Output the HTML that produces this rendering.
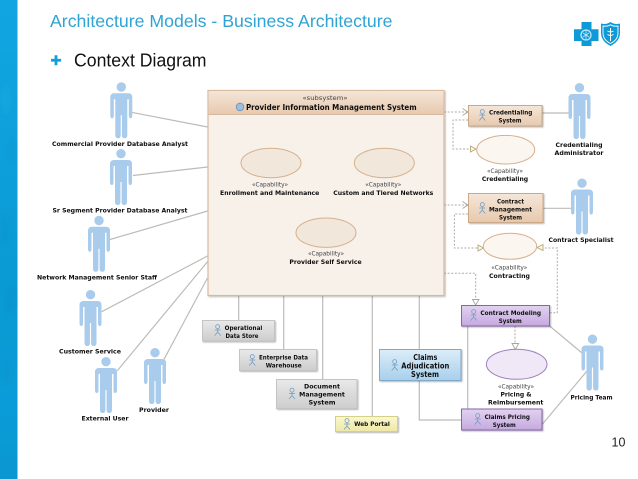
<!DOCTYPE html>
<html><head><meta charset="utf-8"><style>
html,body{margin:0;padding:0;background:#fff}
svg{display:block}
text{font-family:"DejaVu Sans","Liberation Sans",sans-serif;font-weight:bold;font-size:6.4px;fill:#111;text-anchor:middle}
text.c{font-weight:normal;fill:#444}
text.h{font-family:"Liberation Sans",sans-serif;font-weight:normal;text-anchor:start}
</style></head><body>
<svg width="638" height="479" viewBox="0 0 638 479" xmlns="http://www.w3.org/2000/svg">
<defs>
<linearGradient id="side" x1="0" y1="0" x2="0" y2="1"><stop offset="0" stop-color="#11a6e2"/><stop offset=".6" stop-color="#0a9ad3"/><stop offset=".85" stop-color="#0a9cd8"/><stop offset="1" stop-color="#0b97d0"/></linearGradient>
<linearGradient id="tan" x1="0" y1="0" x2="0" y2="1"><stop offset="0" stop-color="#f5e6d8"/><stop offset="1" stop-color="#e6c9ae"/></linearGradient>
<linearGradient id="pur" x1="0" y1="0" x2="0" y2="1"><stop offset="0" stop-color="#e2d2f0"/><stop offset="1" stop-color="#c6a9e0"/></linearGradient>
<linearGradient id="blu" x1="0" y1="0" x2="0" y2="1"><stop offset="0" stop-color="#dcedf9"/><stop offset="1" stop-color="#a8cfec"/></linearGradient>
<linearGradient id="gry" x1="0" y1="0" x2="0" y2="1"><stop offset="0" stop-color="#e9e9e9"/><stop offset="1" stop-color="#cdcdcd"/></linearGradient>
<linearGradient id="yel" x1="0" y1="0" x2="0" y2="1"><stop offset="0" stop-color="#fbf8cf"/><stop offset="1" stop-color="#eee8a4"/></linearGradient>
<filter id="soft" x="-2%" y="-2%" width="104%" height="104%"><feGaussianBlur stdDeviation="0.35"/></filter>
<filter id="sb" x="-50%" y="-5%" width="200%" height="110%"><feGaussianBlur stdDeviation="2"/></filter>
<filter id="ds" x="-5%" y="-10%" width="110%" height="125%"><feDropShadow dx="1" dy="1" stdDeviation=".7" flood-color="#000" flood-opacity=".28"/></filter>
<g id="actor" fill="#a9cbec"><circle cx="0" cy="4.7" r="4.7"/><path d="M-11 15Q-11 11-7 11H7Q11 11 11 15V33Q11 36 9.2 36Q7.5 36 7.5 33V17H6V53Q6 56 3.2 56Q.6 56 .6 53V33H-.6V53Q-.6 56-3.2 56Q-6 56-6 53V17H-7.5V33Q-7.5 36-9.2 36Q-11 36-11 33Z"/></g>
<g id="stick" fill="none" stroke="#6f9cc4" stroke-width=".8"><circle cx="0" cy="-3.4" r="2"/><path d="M0-1.4V2M-3 0H3M0 2L-3 5.5M0 2L3 5.5"/></g>
</defs>

<rect x="0" y="0" width="17.5" height="479" fill="url(#side)"/>
<g filter="url(#sb)" opacity=".22">
<ellipse cx="6" cy="100" rx="5" ry="14" fill="#2ab2e6"/><ellipse cx="12" cy="150" rx="4" ry="12" fill="#0a8fc6"/>
<ellipse cx="5" cy="230" rx="5" ry="16" fill="#0a8cc2"/><ellipse cx="11" cy="300" rx="5" ry="14" fill="#0886bb"/>
<ellipse cx="6" cy="370" rx="5" ry="14" fill="#0b8dc4"/>
</g>

<text class="h" x="50" y="27" textLength="342.5" lengthAdjust="spacingAndGlyphs" style="fill:#2fa3d3;font-size:17.6px">Architecture Models - Business Architecture</text>
<path d="M54.6 55.3h2.8v3.6h3.7v2.7h-3.7v3.6h-2.8v-3.6H51v-2.7h3.6z" fill="#0f9fdc"/>
<text class="h" x="74" y="66.6" textLength="132.5" lengthAdjust="spacingAndGlyphs" style="fill:#111;font-size:18px">Context Diagram</text>
<text class="h" x="611.5" y="446.5" style="fill:#222;font-size:12.5px">10</text>

<!-- logo -->
<path d="M581.5 22h10v7.2h7V41h-7v5h-10v-5H574V29.2h7.5z" fill="#0e9ad7"/>
<circle cx="586" cy="35" r="5" fill="none" stroke="#bfe6f7" stroke-width="1.3"/>
<path d="M583 33l6 4M589 33l-6 4M586 30v10" stroke="#bfe6f7" stroke-width=".8"/>
<path d="M601 23.5Q606 25 610.5 22Q615 25 620 23.5V33Q620 41 610.5 46Q601 41 601 33Z" fill="#0e9ad7"/>
<path d="M603 26Q607 26.800 610.5 24.800Q614 26.800 618 26V33Q618 39.800 610.500 43.500Q603 39.800 603 33Z" fill="none" stroke="#fff" stroke-width=".9"/>
<path d="M610.5 28V41M607.500 31q3 1.800 6 0M607.500 34.500q3 1.800 6 0" stroke="#fff" stroke-width="1" fill="none"/>

<g filter="url(#soft)">
<!-- solid connectors -->
<g stroke="#bcbcb7" stroke-width="1.200" fill="none">
<path d="M131.500 112.300L207.500 127M133 175.500L207.500 167M110 239.500L207.500 211M101.700 311.700L207.500 256M117.300 370.700L207.500 261.700M164 359.300L207.500 278"/>
<path d="M238.700 295V320M283.700 295V349.500M322.700 295V379M372.300 295V416M419.300 295V349M419.300 381V420H461M467.700 326V408.700"/>
<path d="M549.700 326L582 353M542.500 424L587 371M542 113H569M543 208.300H572"/>
</g>
<!-- dashed -->
<g stroke="#b0aca4" stroke-width="1" fill="none" stroke-dasharray="2 1.600">
<path d="M444 112H467M468 120H453V149H471M444 205H467M468 214H454.400V248H478M549.700 312.700H557.300V248H543M444 273.300H475.700V300M515 326V344"/>
</g>
<g stroke="#a9a59d" stroke-width=".9" fill="#fff">
<path d="M462.500 108.500L468 112L462.500 115.500" fill="none"/>
<path d="M462.500 201.500L468 205L462.500 208.500" fill="none"/>
<path d="M476 149L470.500 146V152Z" fill="#fbf7ea" stroke="#b5a878"/>
<path d="M483.500 248L478 245V251Z" fill="#fbf7ea" stroke="#b5a878"/>
<path d="M537 247.500L543 244.500V250.500Z" fill="#fbf7ea" stroke="#b5a878"/>
<path d="M475.700 305L472.500 299.500H479Z"/>
<path d="M515.300 349.500L512 343.500H518.700Z"/>
</g>

<!-- main subsystem -->
<rect x="208" y="90.500" width="236" height="205" fill="#f8f1ea" stroke="#d7b9a0" stroke-width="1.200" filter="url(#ds)"/>
<rect x="208" y="90.500" width="236" height="24" fill="url(#tan)" stroke="#d7b9a0" stroke-width="1"/>
<text class="c" x="325" y="100" textLength="45" lengthAdjust="spacingAndGlyphs">«subsystem»</text>
<circle cx="240" cy="107" r="3.800" fill="#9cbfe0" stroke="#6f8fb8" stroke-width=".8"/>
<text x="331.300" y="110" style="font-size:7.600px" textLength="170.700" lengthAdjust="spacingAndGlyphs">Provider Information Management System</text>

<!-- ellipses -->
<g stroke="#d5b08e" stroke-width="1" fill="#f2e7db">
<ellipse cx="271" cy="163" rx="30" ry="14.700"/>
<ellipse cx="384.300" cy="163" rx="30" ry="14.700"/>
<ellipse cx="326" cy="232.700" rx="30" ry="14.700"/>
<ellipse cx="505.700" cy="149.700" rx="29" ry="14.300" fill="#fbf6f0"/>
<ellipse cx="510" cy="246.300" rx="26.700" ry="13" fill="#fbf6f0"/>
</g>
<ellipse cx="516.700" cy="364.300" rx="30.300" ry="15" fill="#f0e7f7" stroke="#9d80bb" stroke-width="1"/>

<!-- boxes -->
<g stroke-width="1" filter="url(#ds)">
<rect x="468.500" y="105.500" width="73.500" height="20.500" fill="url(#tan)" stroke="#cda887"/>
<rect x="468.500" y="193.500" width="74.500" height="29" fill="url(#tan)" stroke="#cda887"/>
<rect x="461.500" y="305.500" width="88" height="20.500" fill="url(#pur)" stroke="#8565ad"/>
<rect x="461.500" y="409" width="80.500" height="21" fill="url(#pur)" stroke="#8565ad"/>
<rect x="379.500" y="349.500" width="81.500" height="31" fill="url(#blu)" stroke="#7fa9ca"/>
<rect x="202.500" y="320.500" width="72" height="20.500" fill="url(#gry)" stroke="#c4c4c4"/>
<rect x="239.500" y="349.500" width="77" height="21" fill="url(#gry)" stroke="#c4c4c4"/>
<rect x="276.500" y="379.500" width="80.500" height="29" fill="url(#gry)" stroke="#c4c4c4"/>
<rect x="335.500" y="416.500" width="62" height="15" fill="url(#yel)" stroke="#d5cf8a"/>
</g>

<!-- small figures -->
<use href="#stick" x="482.300" y="115"/><use href="#stick" x="482.300" y="208"/>
<use href="#stick" x="473.700" y="315"/><use href="#stick" x="477.700" y="419"/>
<use href="#stick" x="394.700" y="365"/><use href="#stick" x="217.700" y="330"/>
<use href="#stick" x="252.300" y="360"/><use href="#stick" x="292" y="393.500"/>
<use href="#stick" x="347" y="424"/>

<!-- actors -->
<use href="#actor" x="121.300" y="82.300"/><use href="#actor" x="121" y="149"/>
<use href="#actor" x="99" y="215.800"/><use href="#actor" x="90.500" y="290"/>
<use href="#actor" x="106" y="357"/><use href="#actor" x="155" y="348"/>
<use href="#actor" x="579.500" y="83"/><use href="#actor" x="582" y="178.500"/>
<use href="#actor" x="592.500" y="334.500"/>

<!-- actor labels -->
<text x="120" y="146" textLength="136" lengthAdjust="spacingAndGlyphs">Commercial Provider Database Analyst</text>
<text x="120" y="212.500" textLength="135" lengthAdjust="spacingAndGlyphs">Sr Segment Provider Database Analyst</text>
<text x="97" y="279.500" textLength="120" lengthAdjust="spacingAndGlyphs">Network Management Senior Staff</text>
<text x="90" y="353.500" textLength="62" lengthAdjust="spacingAndGlyphs">Customer Service</text>
<text x="105" y="420.500" textLength="47" lengthAdjust="spacingAndGlyphs">External User</text>
<text x="154" y="412" textLength="30" lengthAdjust="spacingAndGlyphs">Provider</text>
<text x="579" y="147" textLength="47" lengthAdjust="spacingAndGlyphs">Credentialing</text>
<text x="579" y="155" textLength="49" lengthAdjust="spacingAndGlyphs">Administrator</text>
<text x="581" y="242" textLength="65" lengthAdjust="spacingAndGlyphs">Contract Specialist</text>
<text x="591.500" y="399.500" textLength="42" lengthAdjust="spacingAndGlyphs">Pricing Team</text>

<!-- capability labels -->
<text class="c" x="270" y="186.500" textLength="36" lengthAdjust="spacingAndGlyphs">«Capability»</text>
<text x="269.700" y="195" textLength="99.300" lengthAdjust="spacingAndGlyphs">Enrollment and Maintenance</text>
<text class="c" x="383.300" y="186.500" textLength="36" lengthAdjust="spacingAndGlyphs">«Capability»</text>
<text x="383.300" y="195" textLength="100" lengthAdjust="spacingAndGlyphs">Custom and Tiered Networks</text>
<text class="c" x="326" y="255.500" textLength="36" lengthAdjust="spacingAndGlyphs">«Capability»</text>
<text x="325.500" y="264" textLength="72.300" lengthAdjust="spacingAndGlyphs">Provider Self Service</text>
<text class="c" x="505" y="173" textLength="36" lengthAdjust="spacingAndGlyphs">«Capability»</text>
<text x="505" y="181" textLength="46.300" lengthAdjust="spacingAndGlyphs">Credentialing</text>
<text class="c" x="509.300" y="269.500" textLength="36" lengthAdjust="spacingAndGlyphs">«Capability»</text>
<text x="509.500" y="278" textLength="41" lengthAdjust="spacingAndGlyphs">Contracting</text>
<text class="c" x="516" y="388.500" textLength="36" lengthAdjust="spacingAndGlyphs">«Capability»</text>
<text x="516" y="396.500" textLength="31" lengthAdjust="spacingAndGlyphs">Pricing &amp;</text>
<text x="515.700" y="404.500" textLength="55.300" lengthAdjust="spacingAndGlyphs">Reimbursement</text>

<!-- box labels -->
<text x="510.700" y="114.500" textLength="43.300" lengthAdjust="spacingAndGlyphs">Credentialing</text>
<text x="510" y="122.500" textLength="23" lengthAdjust="spacingAndGlyphs">System</text>
<text x="510.500" y="203.500" textLength="27" lengthAdjust="spacingAndGlyphs">Contract</text>
<text x="510.500" y="211.500" textLength="43" lengthAdjust="spacingAndGlyphs">Management</text>
<text x="510.500" y="219.500" textLength="23" lengthAdjust="spacingAndGlyphs">System</text>
<text x="510.700" y="315" textLength="60.700" lengthAdjust="spacingAndGlyphs">Contract Modeling</text>
<text x="510.300" y="323" textLength="23" lengthAdjust="spacingAndGlyphs">System</text>
<text x="507.300" y="419" textLength="45.300" lengthAdjust="spacingAndGlyphs">Claims Pricing</text>
<text x="504.300" y="427" textLength="23" lengthAdjust="spacingAndGlyphs">System</text>
<text x="425.300" y="360" textLength="24" lengthAdjust="spacingAndGlyphs" style="font-size:8px">Claims</text>
<text x="425.300" y="368.500" textLength="48" lengthAdjust="spacingAndGlyphs" style="font-size:8px">Adjudication</text>
<text x="425" y="377" textLength="28" lengthAdjust="spacingAndGlyphs" style="font-size:8px">System</text>
<text x="243.500" y="330" textLength="37.700" lengthAdjust="spacingAndGlyphs">Operational</text>
<text x="242" y="338" textLength="33" lengthAdjust="spacingAndGlyphs">Data Store</text>
<text x="283.500" y="359.500" textLength="49" lengthAdjust="spacingAndGlyphs">Enterprise Data</text>
<text x="283.700" y="367.500" textLength="36" lengthAdjust="spacingAndGlyphs">Warehouse</text>
<text x="322" y="388.500" textLength="36" lengthAdjust="spacingAndGlyphs">Document</text>
<text x="322" y="396.500" textLength="45.700" lengthAdjust="spacingAndGlyphs">Management</text>
<text x="322" y="404.500" textLength="27" lengthAdjust="spacingAndGlyphs">System</text>
<text x="372" y="426" textLength="35.700" lengthAdjust="spacingAndGlyphs">Web Portal</text>
</g>
</svg>
</body></html>
